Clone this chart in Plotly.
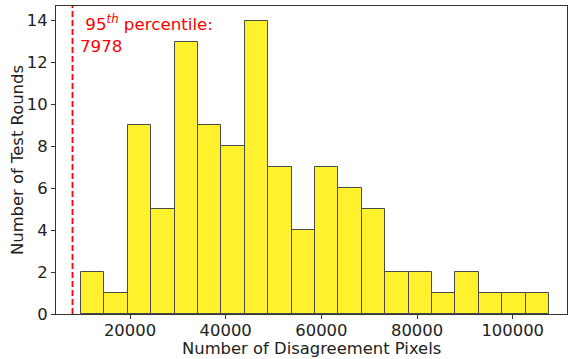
import plotly.graph_objects as go

# Histogram data
counts = [2, 1, 9, 5, 13, 9, 8, 14, 7, 4, 7, 6, 5, 2, 2, 1, 2, 1, 1, 1]
bin_start = 9758
bin_width = 4892
percentile_95 = 7978
x_ticks = [20000, 40000, 60000, 80000, 100000]
y_ticks = [0, 2, 4, 6, 8, 10, 12, 14]

centers = [bin_start + bin_width * (i + 0.5) for i in range(len(counts))]

font = "DejaVu Sans, Liberation Sans, sans-serif"
fs = 16.4

fig = go.Figure()
fig.add_trace(go.Bar(
    x=centers, y=counts, width=[bin_width] * len(counts),
    marker=dict(color="#FFF22C", line=dict(color="#4a4a4a", width=1)),
    showlegend=False, hoverinfo="x+y",
))

fig.add_shape(type="line", x0=percentile_95, x1=percentile_95, y0=0, y1=1,
              xref="x", yref="paper",
              line=dict(color="red", width=1.8, dash="6px,3px"))

fig.add_annotation(x=percentile_95, y=1, xref="x", yref="paper",
                   xanchor="left", yanchor="top", xshift=6, yshift=-4,
                   text=" 95<sup><i>th</i></sup> percentile:<br>" + str(percentile_95),
                   showarrow=False, align="left",
                   font=dict(color="red", size=16.7, family=font))

axis_common = dict(showline=True, linecolor="#333", linewidth=1, mirror=True,
                   ticks="outside", ticklen=4, tickcolor="#333",
                   showgrid=False, zeroline=False,
                   tickfont=dict(size=fs, color="#222", family=font))

fig.add_annotation(x=0.5, y=0, xref="paper", yref="paper", yanchor="middle",
                   yshift=-34, text="Number of Disagreement Pixels",
                   showarrow=False, font=dict(size=fs, color="#222", family=font))
fig.add_annotation(x=0, y=0.5, xref="paper", yref="paper", xanchor="center",
                   xshift=-39, text="Number of Test Rounds", textangle=-90,
                   showarrow=False, font=dict(size=fs, color="#222", family=font))

fig.update_layout(
    width=568, height=359,
    margin=dict(l=56, r=1, t=6, b=45),
    plot_bgcolor="white", paper_bgcolor="white",
    bargap=0,
    xaxis=dict(range=[4532, 111350], tickvals=x_ticks,
               ticktext=[str(v) for v in x_ticks], ticklabelstandoff=-3,
               **axis_common),
    yaxis=dict(range=[0, 14.7], tickvals=y_ticks, **axis_common),
)

fig.write_html("out.html")
